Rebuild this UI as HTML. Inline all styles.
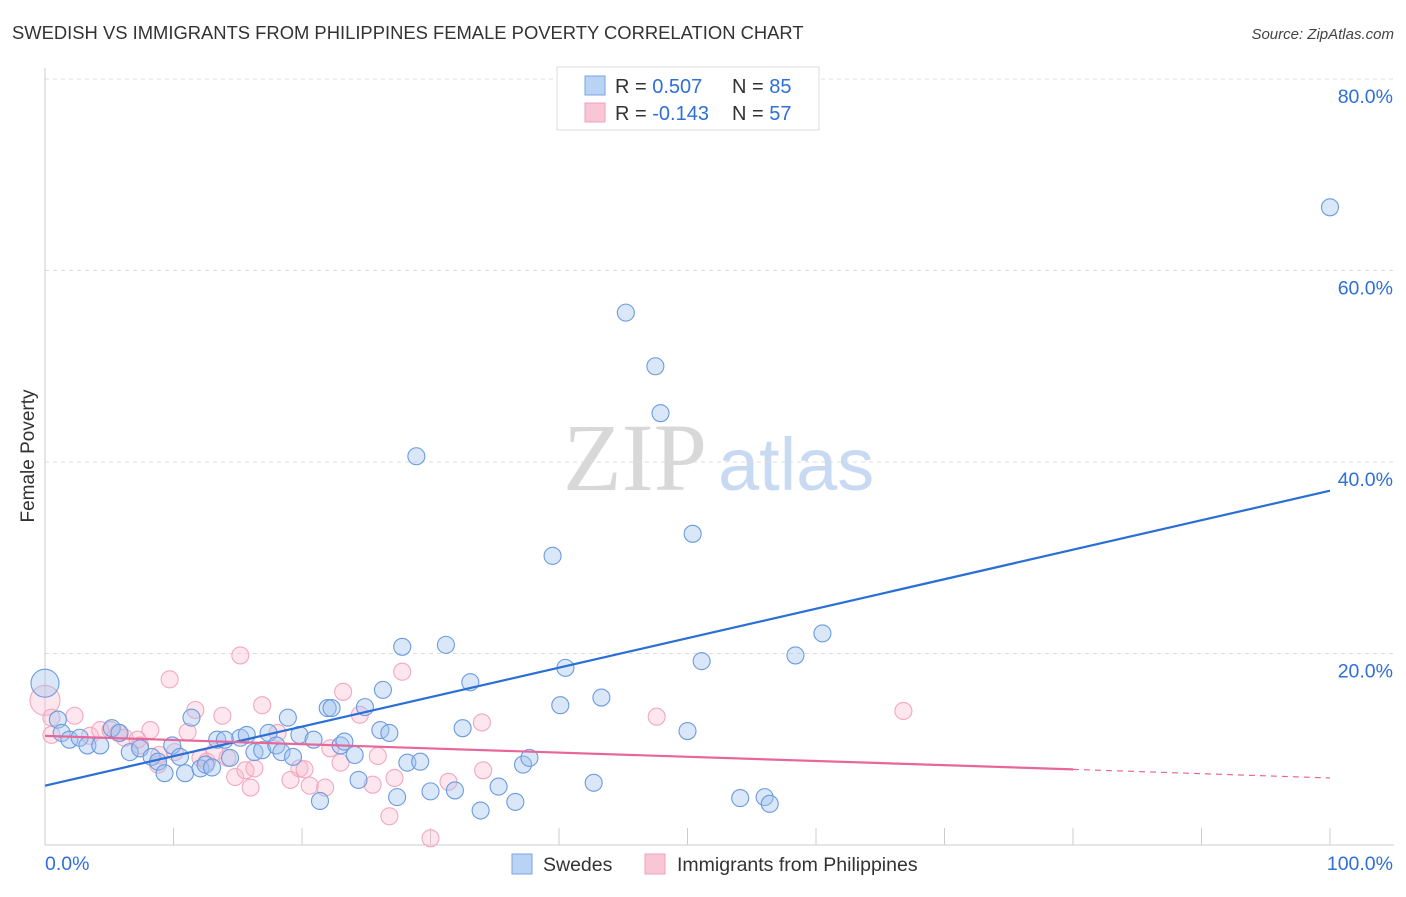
<!DOCTYPE html>
<html><head><meta charset="utf-8"><style>
body{margin:0;background:#fff;font-family:"Liberation Sans",sans-serif;}
svg text{font-family:"Liberation Sans",sans-serif;}
</style></head><body>
<svg id="chart" width="1406" height="892" viewBox="0 0 1406 892">
<text x="12" y="39" font-size="18.4" fill="#333">SWEDISH VS IMMIGRANTS FROM PHILIPPINES FEMALE POVERTY CORRELATION CHART</text>
<text x="1394" y="39" font-size="15" fill="#444" text-anchor="end" font-style="italic">Source: ZipAtlas.com</text>
<g>
<text x="635" y="490" text-anchor="middle" font-size="96" font-family="Liberation Serif" fill="#d8d8d8" style="font-family:'Liberation Serif',serif">ZIP</text>
<text x="718" y="490" font-size="74" fill="#c8daf2">atlas</text>
</g>
<g id="grid"></g>
<g id="axes"></g>
<g id="pts"></g>
<g id="trends"></g>
<text transform="translate(34,456) rotate(-90)" text-anchor="middle" font-size="19" fill="#333">Female Poverty</text>
<g>
<rect x="557" y="67" width="262" height="63" fill="#fff" stroke="#ddd"/>
<rect x="585" y="76" width="20" height="19" fill="#b9d3f5" stroke="#7aa6e0"/>
<rect x="585" y="103" width="20" height="19" fill="#f9c6d5" stroke="#eea3bb"/>
<text x="615" y="93" font-size="20" fill="#333">R = <tspan fill="#2e6fd8">0.507</tspan><tspan x="732">N = </tspan><tspan fill="#2e6fd8">85</tspan></text>
<text x="615" y="120" font-size="20" fill="#333">R = <tspan fill="#2e6fd8">-0.143</tspan><tspan x="732">N = </tspan><tspan fill="#2e6fd8">57</tspan></text>
</g>
<g>
<rect x="512" y="854" width="20" height="20" fill="#b9d3f5" stroke="#7aa6e0"/>
<text x="543" y="871" font-size="19.5" fill="#333">Swedes</text>
<rect x="645" y="854" width="20" height="20" fill="#f9c6d5" stroke="#eea3bb"/>
<text x="677" y="871" font-size="19.5" fill="#333">Immigrants from Philippines</text>
</g>
</svg>
<script>
const yTicks=[20,40,60,80];
const yTickLabels=["20.0%","40.0%","60.0%","80.0%"];
const xTicks=[0,10,20,30,40,50,60,70,80,90,100];
const xTickLabels=["0.0%","100.0%"];
const swedesX=[0,1.0,1.3,1.9,2.7,3.3,4.3,5.2,5.8,6.6,7.4,8.3,8.8,9.3,9.9,10.5,10.9,11.4,12.1,12.5,13.0,13.4,14.0,14.4,15.2,15.7,16.3,16.9,17.4,18.0,18.4,18.9,19.3,19.8,20.9,21.4,22.0,22.3,23.0,23.3,24.1,24.4,24.9,26.1,26.3,26.8,27.4,27.8,28.2,28.9,29.2,30.0,31.2,31.9,32.5,33.1,33.9,35.3,36.6,37.2,37.7,39.5,40.1,40.5,42.7,43.3,45.2,47.5,47.9,50.0,50.4,51.1,54.1,56.0,56.4,58.4,60.5,100];
const swedesY=[16.9,13.1,11.7,11.0,11.2,10.4,10.4,12.2,11.7,9.7,10.1,9.2,8.7,7.5,10.4,9.2,7.5,13.3,8.0,8.4,8.1,11.0,11.0,9.1,11.2,11.5,9.7,9.9,11.7,10.4,9.7,13.3,9.2,11.5,11.0,4.6,14.3,14.3,10.4,10.8,9.4,6.8,14.4,12.0,16.2,11.7,5.0,20.7,8.6,40.6,8.7,5.6,20.9,5.7,12.2,17.0,3.6,6.1,4.5,8.4,9.1,30.2,14.6,18.5,6.5,15.4,55.6,50.0,45.1,11.9,32.5,19.2,4.9,5.0,4.3,19.8,22.1,66.6];
const philX=[0,0.5,0.5,2.3,3.5,4.3,5.1,5.7,6.2,7.2,7.4,8.2,8.8,8.9,9.7,10.1,11.1,11.7,12.1,12.6,13.2,13.8,14.2,14.8,15.2,15.6,16.0,16.3,16.9,18.1,19.1,19.8,20.2,20.6,21.8,22.2,23.0,23.2,24.5,25.5,25.9,26.8,27.2,27.8,30.0,31.4,34.0,34.1,47.6,66.8];
const philY=[15.1,13.3,11.5,13.5,11.4,12.0,12.0,11.7,11.2,11.0,10.4,12.0,8.4,9.4,17.3,9.7,11.8,14.1,9.1,8.7,9.7,13.5,9.1,7.1,19.8,7.8,6.0,8.0,14.6,11.7,6.8,8.0,7.9,6.2,6.0,10.1,8.6,16.0,13.6,6.3,9.3,3.0,7.0,18.1,0.7,6.6,12.8,7.8,13.4,14.0];
const swedesTrend=[6.2,37.0];
const philTrend=[11.4,9.9,7.9,7.0];
const philTrendX=[0,34,80,100];
const NS="http://www.w3.org/2000/svg";
const X=v=>45+v*12.85, Y=v=>845-v*9.575;
function mk(tag,parent,attrs){const e=document.createElementNS(NS,tag);for(const k in attrs)e.setAttribute(k,attrs[k]);parent.appendChild(e);return e;}
const grid=document.getElementById('grid'),axes=document.getElementById('axes'),pts=document.getElementById('pts'),tr=document.getElementById('trends');
yTicks.forEach((t,i)=>{
 const l=mk('line',grid,{x1:45,x2:1394,y1:Y(t),y2:Y(t),stroke:'#ddd','stroke-dasharray':'4,4'});
 
 
 const tx=mk('text',axes,{x:1393,y:Y(t)+24,'text-anchor':'end','font-size':19.5,fill:'#2e6fd8'});tx.textContent=yTickLabels[i];
 
 
});
mk('line',axes,{x1:45,x2:45,y1:68,y2:845,stroke:'#ccc'});
mk('line',axes,{x1:45,x2:1394,y1:845,y2:845,stroke:'#ccc'});
xTicks.forEach(t=>{const l=mk('line',axes,{x1:X(t),x2:X(t),y1:828,y2:845,stroke:'#ccc'});
 
 });
let a=mk('text',axes,{x:45,y:870,'font-size':19.5,fill:'#2e6fd8'});a.textContent=xTickLabels[0];


a=mk('text',axes,{x:1393,y:870,'font-size':19.5,fill:'#2e6fd8','text-anchor':'end'});a.textContent=xTickLabels[1];


philX.forEach((x,i)=>{const c=mk('circle',pts,{cx:X(x),cy:Y(philY[i]),r:i==0?15:8.5,fill:'rgba(248,182,202,0.35)',stroke:'#f2a8bf','stroke-width':1.1});
 
 });
swedesX.forEach((x,i)=>{const c=mk('circle',pts,{cx:X(x),cy:Y(swedesY[i]),r:i==0?14:8.5,fill:'rgba(160,196,240,0.4)',stroke:'#6b9be0','stroke-width':1.1});
 
 });
let t=mk('line',tr,{x1:X(0),y1:Y(swedesTrend[0]),x2:X(100),y2:Y(swedesTrend[1]),stroke:'#2a6fd6','stroke-width':2.2});


t=mk('line',tr,{x1:X(philTrendX[0]),y1:Y(philTrend[0]),x2:X(philTrendX[2]),y2:Y(philTrend[2]),stroke:'#e8679a','stroke-width':2.2});


t=mk('line',tr,{x1:X(philTrendX[2]),y1:Y(philTrend[2]),x2:X(philTrendX[3]),y2:Y(philTrend[3]),stroke:'#e8679a','stroke-width':1.2,'stroke-dasharray':'6,5'});


</script>
</body></html>
